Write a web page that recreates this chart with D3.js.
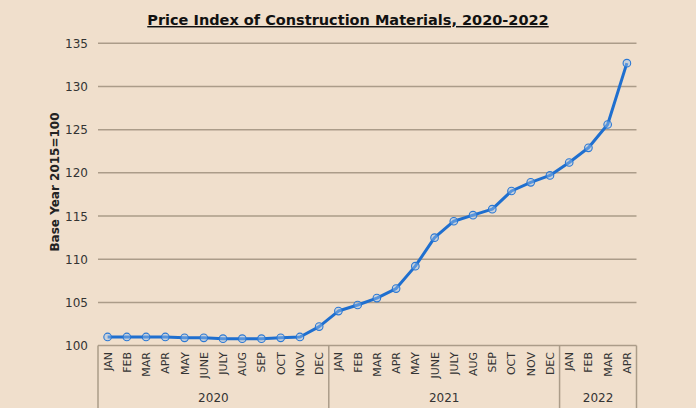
<!DOCTYPE html>
<html><head><meta charset="utf-8">
<script src="https://cdn.jsdelivr.net/npm/d3@7"></script>
<style>
html,body{margin:0;padding:0;background:#f0dfcc;}
svg{display:block;font-family:"DejaVu Sans",Verdana,sans-serif;}
</style></head>
<body><svg id="c" width="696" height="408"></svg>
<script>
const years = ["2020","2021","2022"];
const monthsPerYear = [12,12,4];
const monthNames = ["JAN","FEB","MAR","APR","MAY","JUNE","JULY","AUG","SEP","OCT","NOV","DEC"];
const values = [101.0,101.0,101.0,101.0,100.9,100.9,100.8,100.8,100.8,100.9,101.0,102.2,
                104.0,104.7,105.5,106.6,109.2,112.5,114.4,115.1,115.8,117.9,118.9,119.7,
                121.2,122.9,125.6,132.7];
const yTicks = [100,105,110,115,120,125,130,135];

const cats = [];
years.forEach((y,i)=>{for(let m=0;m<monthsPerYear[i];m++) cats.push({year:y,month:monthNames[m],key:y+"-"+m});});
const data = cats.map((c,i)=>({...c,v:values[i]}));

const svg = d3.select("#c");
const L=98,R=636.5,T=43.3,B=345.6;
const x = d3.scaleBand().domain(cats.map(c=>c.key)).range([L,R]).padding(0);
const y = d3.scaleLinear().domain([100,135]).range([B,T]);

// gridlines
svg.append("g").selectAll("line").data(yTicks).join("line")
  .attr("x1",L).attr("x2",R).attr("y1",d=>y(d)).attr("y2",d=>y(d))
  .attr("stroke","#ab9c89").attr("stroke-width",1.5);

// y tick labels
svg.append("g").selectAll("text").data(yTicks).join("text")
  .attr("x",88).attr("y",d=>y(d)+4.5).attr("text-anchor","end")
  .attr("font-size",12).attr("fill","#333").text(d=>d);

// y label
svg.append("text").attr("transform","translate(59,182) rotate(-90)")
  .attr("text-anchor","middle").attr("font-size",12).attr("font-weight","bold").attr("fill","#222")
  .text("Base Year 2015=100");

// title
svg.append("text").attr("x",348).attr("y",25).attr("text-anchor","middle")
  .attr("font-size",14.5).attr("font-weight","bold").attr("fill","#111")
  .attr("text-decoration","underline").text("Price Index of Construction Materials, 2020-2022");

// month labels
svg.append("g").selectAll("text").data(cats).join("text")
  .attr("transform",d=>`translate(${x(d.key)+x.bandwidth()/2+4},352) rotate(-90)`)
  .attr("text-anchor","end").attr("font-size",11).attr("fill","#333").text(d=>d.month);

// group separators
let idx=0; const bounds=[0];
monthsPerYear.forEach(n=>{idx+=n;bounds.push(idx);});
const bx = i => i<cats.length ? x(cats[i].key) : R;
svg.append("g").selectAll("line").data(bounds).join("line")
  .attr("x1",d=>bx(d)).attr("x2",d=>bx(d)).attr("y1",B).attr("y2",408)
  .attr("stroke","#ab9c89").attr("stroke-width",1.5);

// year labels
svg.append("g").selectAll("text").data(years).join("text")
  .attr("x",(d,i)=>(bx(bounds[i])+bx(bounds[i+1]))/2).attr("y",402)
  .attr("text-anchor","middle").attr("font-size",12).attr("fill","#333").text(d=>d);

// line
const cx = d=>x(d.key)+x.bandwidth()/2;
svg.append("path").datum(data)
  .attr("d",d3.line().x(cx).y(d=>y(d.v)))
  .attr("fill","none").attr("stroke","#1f6fcf").attr("stroke-width",3).attr("stroke-linejoin","round");
svg.append("g").selectAll("circle").data(data).join("circle")
  .attr("cx",cx).attr("cy",d=>y(d.v)).attr("r",3.8)
  .attr("fill","#9cc2ec").attr("fill-opacity",0.45).attr("stroke","#2a78d4").attr("stroke-width",1.1);
</script></body></html>
